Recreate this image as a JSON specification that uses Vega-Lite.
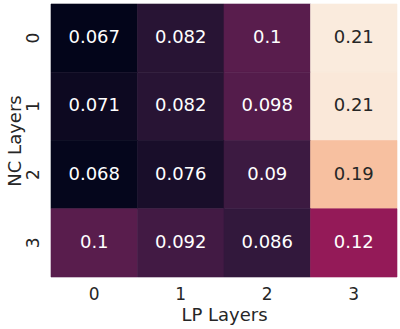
{
  "$schema": "https://vega.github.io/schema/vega-lite/v6.json",
  "autosize": "none",
  "width": 346,
  "height": 273,
  "padding": {"left": 51, "top": 4, "right": 3, "bottom": 52},
  "config": {
    "view": {"stroke": null},
    "font": "DejaVu Sans",
    "axis": {"domain": false, "ticks": false, "grid": false, "labelColor": "#262626", "titleColor": "#262626", "labelFontSize": 17, "titleFontSize": 18, "titleFontWeight": "normal", "labelFont": "DejaVu Sans", "titleFont": "DejaVu Sans"}
  },
  "data": {
    "values": [
      {"lp": "0", "nc": "0", "v": 0.067},
      {"lp": "1", "nc": "0", "v": 0.082},
      {"lp": "2", "nc": "0", "v": 0.1},
      {"lp": "3", "nc": "0", "v": 0.21},
      {"lp": "0", "nc": "1", "v": 0.071},
      {"lp": "1", "nc": "1", "v": 0.082},
      {"lp": "2", "nc": "1", "v": 0.098},
      {"lp": "3", "nc": "1", "v": 0.209},
      {"lp": "0", "nc": "2", "v": 0.068},
      {"lp": "1", "nc": "2", "v": 0.076},
      {"lp": "2", "nc": "2", "v": 0.09},
      {"lp": "3", "nc": "2", "v": 0.194},
      {"lp": "0", "nc": "3", "v": 0.1},
      {"lp": "1", "nc": "3", "v": 0.092},
      {"lp": "2", "nc": "3", "v": 0.086},
      {"lp": "3", "nc": "3", "v": 0.12}
    ]
  },
  "encoding": {
    "x": {"field": "lp", "type": "ordinal", "title": "LP Layers", "scale": {"paddingInner": 0, "paddingOuter": 0}, "axis": {"labelAngle": 0, "labelPadding": 9, "titlePadding": 4}},
    "y": {"field": "nc", "type": "ordinal", "title": "NC Layers", "scale": {"paddingInner": 0, "paddingOuter": 0}, "axis": {"labelAngle": -90, "labelAlign": "center", "labelBaseline": "bottom", "labelPadding": 9, "titlePadding": 0}}
  },
  "layer": [
    {
      "mark": {"type": "rect", "strokeWidth": 0.6, "strokeOpacity": 1},
      "encoding": {
        "color": {
          "field": "v",
          "type": "quantitative",
          "legend": null,
          "scale": {
            "domain": [0.067, 0.0874, 0.1079, 0.1283, 0.1487, 0.1691, 0.1896, 0.21],
            "range": ["#03051A", "#35193E", "#701F57", "#AD1759", "#E13342", "#F37651", "#F6B48F", "#FAEBDD"],
            "interpolate": "rgb",
            "clamp": true
          }
        },
        "stroke": {
          "field": "v",
          "type": "quantitative",
          "legend": null,
          "scale": {
            "domain": [0.067, 0.0874, 0.1079, 0.1283, 0.1487, 0.1691, 0.1896, 0.21],
            "range": ["#03051A", "#35193E", "#701F57", "#AD1759", "#E13342", "#F37651", "#F6B48F", "#FAEBDD"],
            "interpolate": "rgb",
            "clamp": true
          }
        }
      }
    },
    {
      "mark": {"type": "text", "fontSize": 18, "font": "DejaVu Sans"},
      "encoding": {
        "text": {"field": "v", "type": "quantitative", "format": ".2~g"},
        "color": {
          "condition": {"test": "datum.v > 0.15", "value": "#262626"},
          "value": "#FFFFFF"
        }
      }
    }
  ]
}
